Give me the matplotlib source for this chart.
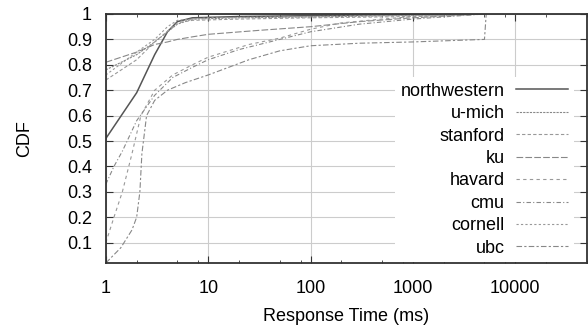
import matplotlib
matplotlib.use('Agg')
import matplotlib.pyplot as plt
from matplotlib.ticker import LogLocator, FixedLocator, NullFormatter

plt.rcParams['font.family'] = ['Liberation Sans', 'DejaVu Sans']
plt.rcParams['font.size'] = 13

# response time (ms) / CDF points
northwestern_x = [1, 2, 3, 4, 5, 7, 20, 200, 5000]
northwestern_y = [0.51, 0.69, 0.84, 0.93, 0.97, 0.985, 0.99, 0.995, 1.0]

umich_x = [1, 2, 3, 5, 7, 20, 200, 5000]
umich_y = [0.78, 0.84, 0.89, 0.96, 0.98, 0.985, 0.99, 1.0]

stanford_x = [1, 2, 3, 5, 7, 20, 100, 1000, 5000]
stanford_y = [0.74, 0.82, 0.89, 0.965, 0.975, 0.98, 0.985, 0.99, 1.0]

ku_x = [1, 2, 3, 4, 5, 7, 10, 30, 100, 300, 1000, 5000]
ku_y = [0.81, 0.85, 0.88, 0.89, 0.9, 0.91, 0.92, 0.935, 0.95, 0.97, 0.985, 1.0]

havard_x = [1, 1.2, 1.45, 1.8, 2.2, 3, 4.5, 7, 10, 25, 50, 100, 200, 500, 1000, 5000]
havard_y = [0.1, 0.2, 0.3, 0.45, 0.6, 0.7, 0.76, 0.8, 0.83, 0.88, 0.905, 0.94, 0.965, 0.98, 0.99, 1.0]

cmu_x = [1, 1.2, 1.45, 2, 3, 4.5, 7, 10, 20, 50, 100, 300, 1000, 5000]
cmu_y = [0.33, 0.4, 0.46, 0.58, 0.68, 0.75, 0.79, 0.82, 0.86, 0.9, 0.93, 0.96, 0.98, 1.0]

cornell_x = [1, 2, 3, 4, 5, 7, 10, 100, 1000, 5000]
cornell_y = [0.76, 0.85, 0.9, 0.95, 0.975, 0.98, 0.985, 0.99, 0.995, 1.0]

ubc_x = [1, 1.4, 1.8, 2.0, 2.15, 2.25, 2.5, 3, 4, 6, 10, 25, 50, 100, 300, 1000, 5000, 5200]
ubc_y = [0.02, 0.08, 0.15, 0.2, 0.3, 0.45, 0.6, 0.66, 0.7, 0.73, 0.76, 0.82, 0.855, 0.875, 0.885, 0.89, 0.9, 1.0]

fig = plt.figure(figsize=(5.88, 3.34), dpi=100)
ax = fig.add_axes([0.180, 0.2126, 0.818, 0.7455])

ax.plot(northwestern_x, northwestern_y, color='#555555', lw=1.1, ls='-', label='northwestern')
ax.plot(umich_x, umich_y, color='#888888', lw=0.8, ls=(0, (2, 1)), label='u-mich')
ax.plot(stanford_x, stanford_y, color='#999999', lw=0.8, ls=(0, (3, 2)), label='stanford')
ax.plot(ku_x, ku_y, color='#888888', lw=0.8, ls=(0, (6, 2)), label='ku')
ax.plot(havard_x, havard_y, color='#999999', lw=0.8, ls=(0, (3, 3)), label='havard')
ax.plot(cmu_x, cmu_y, color='#888888', lw=0.8, ls=(0, (4, 2, 1, 2)), label='cmu')
ax.plot(cornell_x, cornell_y, color='#999999', lw=0.8, ls=(0, (2, 2)), label='cornell')
ax.plot(ubc_x, ubc_y, color='#888888', lw=0.8, ls=(0, (5, 2, 2, 2)), label='ubc')

ax.set_xscale('log')
ax.set_xlim(1, 50000)
ax.set_ylim(0.02, 1)

ax.xaxis.set_major_locator(FixedLocator([1, 10, 100, 1000, 10000]))
ax.set_xticklabels(['1', '10', '100', '1000', '10000'])
ax.xaxis.set_minor_locator(LogLocator(base=10, subs=[2, 5, 8]))
ax.xaxis.set_minor_formatter(NullFormatter())
ax.set_yticks([0.1, 0.2, 0.3, 0.4, 0.5, 0.6, 0.7, 0.8, 0.9, 1.0])
ax.set_yticklabels(['0.1', '0.2', '0.3', '0.4', '0.5', '0.6', '0.7', '0.8', '0.9', '1'])

ax.tick_params(which='both', direction='in', top=True, right=True, labelsize=13)
ax.tick_params(axis='x', pad=12)
ax.tick_params(axis='y', pad=10)
ax.tick_params(which='major', length=5, width=0.8, color='#333333')
ax.tick_params(which='minor', length=2.5, width=0.6, color='#333333')
ax.grid(True, which='major', color='#cccccc', lw=0.8)
ax.set_axisbelow(True)

for s in ax.spines.values():
    s.set_color('#333333')
    s.set_linewidth(1.3)

ax.set_xlabel('Response Time (ms)', fontsize=13, labelpad=8)
ax.set_ylabel('CDF', fontsize=13, labelpad=24)

leg = ax.legend(loc='lower right', bbox_to_anchor=(0.975, 0.0), markerfirst=False,
                frameon=True, fancybox=False, framealpha=1.0, edgecolor='none',
                facecolor='white', handlelength=2.9, handletextpad=0.65,
                labelspacing=0.3, borderpad=0.3, borderaxespad=0.05, fontsize=13)

fig.savefig('out.png', dpi=100)
